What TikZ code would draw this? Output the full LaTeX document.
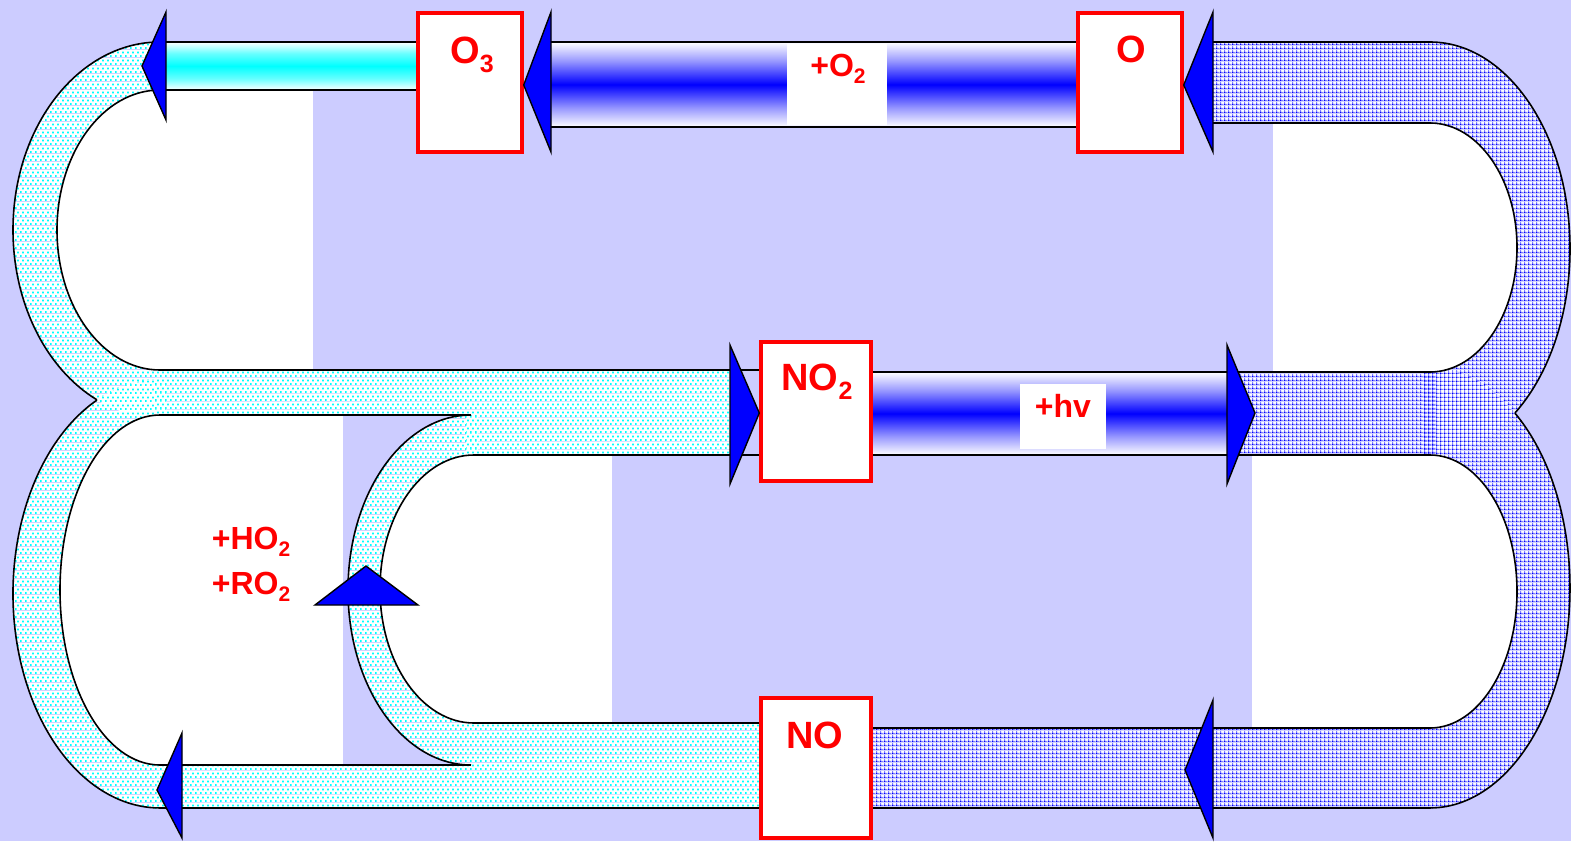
\documentclass[tikz,border=0pt]{standalone}
\usepackage{fontspec}
\setmainfont{Liberation Sans}
\usetikzlibrary{patterns}
\definecolor{lav}{RGB}{204,204,255}
\definecolor{aqua}{RGB}{0,255,255}
\definecolor{pureblue}{RGB}{0,0,255}
\definecolor{purered}{RGB}{255,0,0}
% vertical tube shadings: white rims, saturated core
\pgfdeclareverticalshading{bluetube}{100bp}{color(0bp)=(white); color(25bp)=(white); color(36bp)=(pureblue!40); color(50bp)=(pureblue); color(64bp)=(pureblue!40); color(75bp)=(white); color(100bp)=(white)}
\pgfdeclareverticalshading{cyantube}{100bp}{color(0bp)=(white); color(25bp)=(white); color(37bp)=(aqua!60); color(50bp)=(aqua); color(63bp)=(aqua!60); color(75bp)=(white); color(100bp)=(white)}
% stipple fills for the return paths
\pgfdeclarepatterninherentlycolored{cyanstipple}{\pgfpointorigin}{\pgfqpoint{5pt}{8pt}}{\pgfqpoint{5pt}{8pt}}{%
  \pgfsetfillcolor{white}\pgfpathrectangle{\pgfpointorigin}{\pgfqpoint{5pt}{8pt}}\pgfusepath{fill}%
  \pgfsetfillcolor{aqua}%
  \pgfpathrectangle{\pgfpointorigin}{\pgfqpoint{2pt}{2pt}}%
  \pgfpathrectangle{\pgfqpoint{2.5pt}{4pt}}{\pgfqpoint{2pt}{2pt}}\pgfusepath{fill}}
\pgfdeclarepatterninherentlycolored{bluegrid}{\pgfpointorigin}{\pgfqpoint{4pt}{4pt}}{\pgfqpoint{4pt}{4pt}}{%
  \pgfsetfillcolor{white}\pgfpathrectangle{\pgfpointorigin}{\pgfqpoint{4pt}{4pt}}\pgfusepath{fill}%
  \pgfsetfillcolor{pureblue!50}%
  \pgfpathrectangle{\pgfpointorigin}{\pgfqpoint{4pt}{1.5pt}}%
  \pgfpathrectangle{\pgfpointorigin}{\pgfqpoint{1.5pt}{4pt}}\pgfusepath{fill}%
  \pgfsetfillcolor{pureblue}%
  \pgfpathrectangle{\pgfpointorigin}{\pgfqpoint{1.5pt}{1.5pt}}\pgfusepath{fill}}
% chemical subscripts
\newcommand\chsub[3]{\raisebox{-#2pt}{\fontsize{#1}{#1}\selectfont #3}}
\newcommand\bigsub[1]{\chsub{25}{9}{#1}}
\newcommand\smallsub[1]{\chsub{21}{7}{#1}}
\begin{document}
\begin{tikzpicture}[x=1pt,y=-1pt,
  rim/.style={draw=black,line width=1.6pt},
  rbox/.style={draw=purered,line width=3.4pt,fill=white,inner sep=0pt},
  headtri/.style={fill=pureblue,draw=black,line width=1.4pt,line join=miter},
  cdots/.style={pattern=cyanstipple},
  bdots/.style={pattern=bluegrid},
  bigchem/.style={text=purered,font=\bfseries\fontsize{38}{40}\selectfont,inner sep=0pt,anchor=base},
  smallchem/.style={text=purered,font=\bfseries\fontsize{32}{36}\selectfont,inner sep=0pt,anchor=base}]

\useasboundingbox (0,0) rectangle (1571,841);
\fill[lav] (0,0) rectangle (1571,841);

% white panels behind the loops
\fill[white] (160,90) rectangle (313,370);
\fill[white] (160,415) rectangle (343,765);
\fill[white] (474,455) rectangle (612,723);
\fill[white] (1273,123) rectangle (1430,372);
\fill[white] (1252,455) rectangle (1430,728);

% ---- cyan stippled return paths (left side) ----
\fill[cdots] (160,42) arc[start angle=270,end angle=90,x radius=147,y radius=188] -- (166,418) -- (166,42) -- cycle;
\fill[cdots] (160,379.4) arc[start angle=270,end angle=90,x radius=147,y radius=214.3] -- (166,808) -- (166,379.4) -- cycle;
\fill[cdots] (471,415) arc[start angle=270,end angle=90,x radius=123,y radius=175] -- (478,765) -- (478,415) -- cycle;
\fill[cdots] (155,370) rectangle (730,415);
\fill[cdots] (466,410) rectangle (730,455);
\fill[cdots] (155,765) rectangle (761,808);
\fill[cdots] (466,723) rectangle (761,770);
\fill[white] (160,90) arc[start angle=270,end angle=90,x radius=103,y radius=140] -- (170,370) -- (170,90) -- cycle;
\fill[white] (160,415) arc[start angle=270,end angle=90,x radius=100,y radius=175] -- (170,765) -- (170,415) -- cycle;
\fill[white] (474,455) arc[start angle=270,end angle=90,x radius=94,y radius=134] -- (484,723) -- (484,455) -- cycle;

% ---- blue stippled paths (right side) ----
\fill[bdots] (1430,42) arc[start angle=-90,end angle=90,x radius=140,y radius=206.7] -- (1424,455.4) -- (1424,42) -- cycle;
\fill[bdots] (1430,368) arc[start angle=-90,end angle=90,x radius=140,y radius=220] -- (1424,808) -- (1424,368) -- cycle;
\fill[bdots] (1205,42) rectangle (1436,123);
\fill[bdots] (1227,372) rectangle (1436,455);
\fill[bdots] (871,728) rectangle (1436,808);
\fill[white] (1430,123) arc[start angle=-90,end angle=90,x radius=87,y radius=124.5] -- (1420,372) -- (1420,123) -- cycle;
\fill[white] (1430,455) arc[start angle=-90,end angle=90,x radius=87,y radius=136.5] -- (1420,728) -- (1420,455) -- cycle;

% ---- shaded tubes ----
\shade[shading=cyantube] (160,42) rectangle (418,90);
\shade[shading=bluetube] (549,42) rectangle (1078,127);
\shade[shading=bluetube] (871,372) rectangle (1235,455);

% ---- outlines ----
% left loops
\draw[rim] (160,42) arc[start angle=270,end angle=115.4,x radius=147,y radius=188];
\draw[rim] (96.95,400.1) arc[start angle=244.6,end angle=90,x radius=147,y radius=214.3];
\draw[rim] (160,90) arc[start angle=270,end angle=90,x radius=103,y radius=140];
\draw[rim] (160,415) arc[start angle=270,end angle=90,x radius=100,y radius=175];
\draw[rim] (471,415) arc[start angle=270,end angle=90,x radius=123,y radius=175];
\draw[rim] (474,455) arc[start angle=270,end angle=90,x radius=94,y radius=134];
% right loops
\draw[rim] (1430,42) arc[start angle=-90,end angle=52.6,x radius=140,y radius=206.7];
\draw[rim] (1515,413.2) arc[start angle=-52.6,end angle=90,x radius=140,y radius=220];
\draw[rim] (1430,123) arc[start angle=-90,end angle=90,x radius=87,y radius=124.5];
\draw[rim] (1430,455) arc[start angle=-90,end angle=90,x radius=87,y radius=136.5];
% straight tube walls
\draw[rim] (160,42) -- (418,42) (160,90) -- (418,90);
\draw[rim] (551,42) -- (1078,42) (551,127) -- (1078,127);
\draw[rim] (1213,42) -- (1430,42) (1213,123) -- (1430,123);
\draw[rim] (160,370) -- (761,370) (160,415) -- (471,415) (474,455) -- (761,455);
\draw[rim] (871,372) -- (1430,372) (871,455) -- (1430,455);
\draw[rim] (160,765) -- (471,765) (474,723) -- (761,723) (160,808) -- (761,808);
\draw[rim] (871,728) -- (1430,728) (871,808) -- (1430,808);

% ---- reaction labels on the tubes ----
\fill[white] (787,44) rectangle (887,125);
\node[smallchem] (o2lbl) at (838,76) {+O\smallsub{2}};
\fill[white] (1020,384) rectangle (1106,449);
\node[smallchem] (hvlbl) at (1063,417) {+hv};
\node[smallchem] (ho2lbl) at (251,549) {+HO\smallsub{2}};
\node[smallchem] (ro2lbl) at (251,594) {+RO\smallsub{2}};

% ---- species boxes ----
\node[rbox,minimum width=104pt,minimum height=139pt] (o3) at (470,82.5) {};
\node[rbox,minimum width=104pt,minimum height=139pt] (o) at (1130,82.5) {};
\node[rbox,minimum width=110pt,minimum height=139pt] (no2) at (816,411.5) {};
\node[rbox,minimum width=110pt,minimum height=140pt] (no) at (816,768) {};
\node[bigchem] (o3lbl) at (472,63) {O\bigsub{3}};
\node[bigchem] (olbl) at (1131,62) {O};
\node[bigchem] (no2lbl) at (817,390) {NO\bigsub{2}};
\node[bigchem] (nolbl) at (815,748) {NO};

% ---- arrow heads ----
\draw[headtri] (166,12) -- (142,66) -- (166,120) -- cycle;
\draw[headtri] (551,12) -- (o3.east |- 0,85) -- (551,152) -- cycle;
\draw[headtri] (1213,12) -- (o.east |- 0,85) -- (1213,152) -- cycle;
\draw[headtri] (730,345) -- (no2.west |- 0,413) -- (730,484) -- cycle;
\draw[headtri] (1227,345) -- (1255,413) -- (1227,484) -- cycle;
\draw[headtri] (1213,700) -- (1185,770) -- (1213,838) -- cycle;
\draw[headtri] (182,733) -- (157,790) -- (182,838) -- cycle;
\draw[headtri] (315,605) -- (366,566) -- (418,605) -- cycle;
\end{tikzpicture}
\end{document}
